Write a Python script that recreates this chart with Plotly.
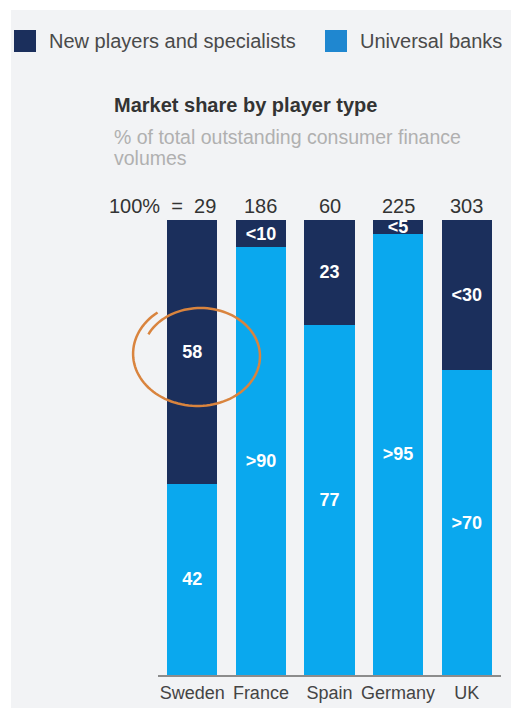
import numpy as np
import plotly.graph_objects as go

countries = ["Sweden", "France", "Spain", "Germany", "UK"]
totals = ["29", "186", "60", "225", "303"]
new_players = [58, 6, 23, 3, 33]
universal_banks = [42, 94, 77, 97, 67]
new_labels = ["58", "<10", "23", "<5", "<30"]
universal_labels = ["42", ">90", "77", ">95", ">70"]

NAVY = "#1b2f5c"
CYAN = "#0aa8ee"
LEG_CYAN = "#1f87d0"
BG = "#f2f3f5"
FONT = "Liberation Sans, Arial, sans-serif"

W, H = 511, 708
L, R, T, B = 158, 10, 220, 33
PW, PH = W - L - R, H - T - B


def px2x(px):
    return (px - L) / PW


def py2y(py):
    return (H - B - py) / PH


xs = list(range(len(countries)))

bar_font = dict(color="white", size=18, family=FONT)
fig = go.Figure()
fig.add_trace(go.Bar(
    x=xs, y=universal_banks, name="Universal banks", marker_color=CYAN,
    text=["<b>%s</b>" % s for s in universal_labels], textposition="inside",
    insidetextanchor="middle", textfont=bar_font, width=0.73,
    marker_line_width=0, showlegend=False,
))
fig.add_trace(go.Bar(
    x=xs, y=new_players, name="New players and specialists", marker_color=NAVY,
    text=["<b>%s</b>" % s for s in new_labels], textposition="inside",
    insidetextanchor="middle", textfont=bar_font, width=0.73,
    marker_line_width=0, showlegend=False,
))

shapes = []
annotations = []
# background panel
shapes.append(dict(type="rect", xref="paper", yref="paper", layer="below",
                   x0=px2x(11), x1=px2x(W + 2), y0=py2y(H + 2), y1=py2y(10),
                   fillcolor=BG, line_width=0))
# custom legend
legend_items = [("New players and specialists", NAVY, 14), ("Universal banks", LEG_CYAN, 325)]
for label, col, x0 in legend_items:
    shapes.append(dict(type="rect", xref="paper", yref="paper",
                       x0=px2x(x0), x1=px2x(x0 + 22), y0=py2y(52), y1=py2y(30),
                       fillcolor=col, line_width=0))
    annotations.append(dict(xref="paper", yref="paper", x=px2x(x0 + 33), y=py2y(41),
                            xanchor="left", yanchor="middle", showarrow=False,
                            text=label, font=dict(size=20, color="#4a4a4a", family=FONT)))

# title and subtitle
annotations.append(dict(xref="paper", yref="paper", x=px2x(112), y=py2y(105),
                        xanchor="left", yanchor="middle", showarrow=False,
                        text="<b>Market share by player type</b>",
                        font=dict(size=20, color="#333333", family=FONT)))
annotations.append(dict(xref="paper", yref="paper", x=px2x(112), y=py2y(137),
                        xanchor="left", yanchor="middle", showarrow=False,
                        text="% of total outstanding consumer finance",
                        font=dict(size=19.5, color="#b0b0b0", family=FONT)))
annotations.append(dict(xref="paper", yref="paper", x=px2x(112), y=py2y(158),
                        xanchor="left", yanchor="middle", showarrow=False,
                        text="volumes",
                        font=dict(size=19.5, color="#b0b0b0", family=FONT)))

# totals above bars
for i, tot in enumerate(totals):
    if i == 0:
        annotations.append(dict(x=xs[i] + 0.37, y=100, xref="x", yref="y",
                                xanchor="right", yanchor="bottom", yshift=1,
                                showarrow=False, text="100%  =  " + tot,
                                font=dict(size=20, color="#333333", family=FONT)))
    else:
        annotations.append(dict(x=xs[i], y=100, xref="x", yref="y",
                                xanchor="center", yanchor="bottom", yshift=1,
                                showarrow=False, text=tot,
                                font=dict(size=20, color="#333333", family=FONT)))

# hand-drawn orange circle around Sweden's value (pixel geometry -> paper)
cxp, cyp = 199.0, 355.0
rxp, ryp = 66.0, 53.0
t = np.linspace(np.radians(128), np.radians(128 + 385), 120)
f = np.linspace(1.02, 0.86, 120)
pxs = cxp + rxp * f * np.cos(t)
pys = cyp - ryp * f * np.sin(t)
path = "M " + " L ".join(f"{px2x(a):.5f},{py2y(b):.5f}" for a, b in zip(pxs, pys))
shapes.append(dict(type="path", xref="paper", yref="paper", path=path,
                   line=dict(color="#d9843e", width=2.5)))

fig.update_layout(
    width=W, height=H,
    margin=dict(l=L, r=R, t=T, b=B, pad=0, autoexpand=False),
    barmode="stack",
    paper_bgcolor="white", plot_bgcolor="rgba(0,0,0,0)",
    shapes=shapes, annotations=annotations,
    uniformtext=dict(minsize=18, mode="show"),
    font=dict(family=FONT),
    xaxis=dict(range=[-0.5, 4.5], tickvals=xs, ticktext=countries,
               showgrid=False, zeroline=False, showline=True, automargin=False,
               linecolor="#8c8c8c", linewidth=2, ticks="",
               tickfont=dict(size=18, color="#444444", family=FONT)),
    yaxis=dict(range=[0, 100], visible=False, showgrid=False, zeroline=False,
               automargin=False),
)

fig.write_html("out.html")
